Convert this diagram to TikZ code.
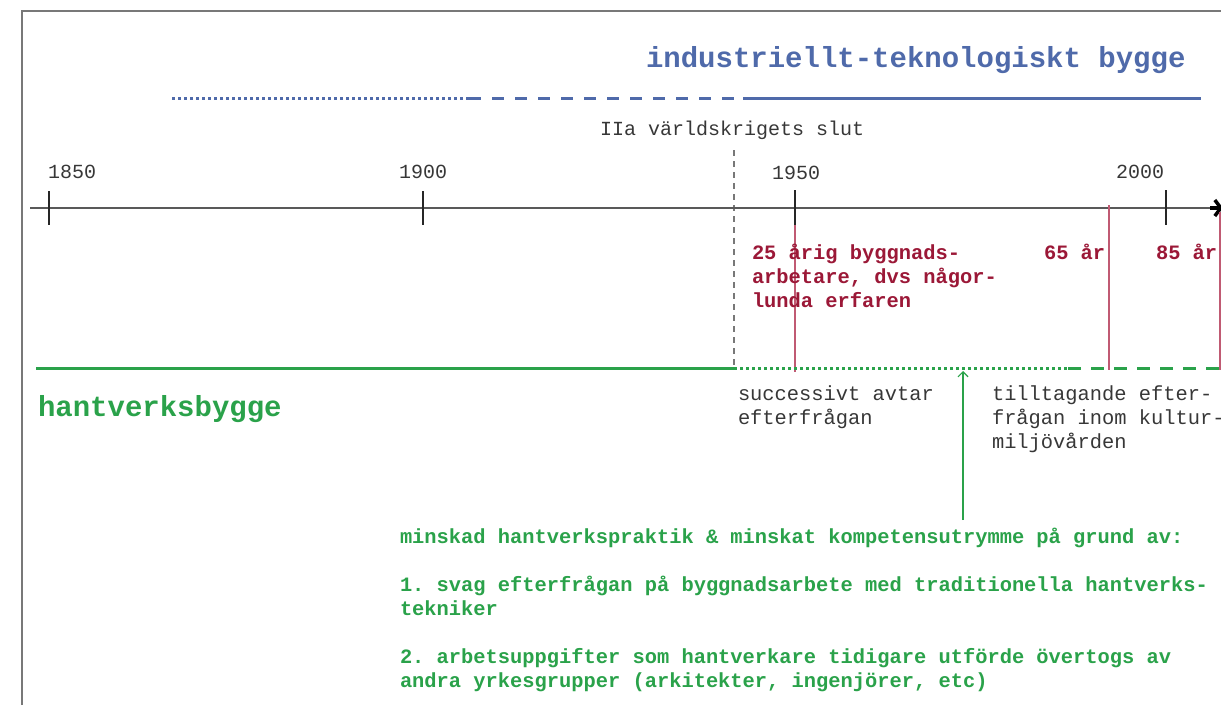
\documentclass[tikz,border=0pt]{standalone}
\usepackage{fontspec}
\newfontfamily\mono{Liberation Mono}
\usetikzlibrary{arrows.meta}
\definecolor{tblue}{RGB}{79,106,170}
\definecolor{tgreen}{RGB}{42,162,74}
\definecolor{tred}{RGB}{155,24,55}
\definecolor{tredline}{RGB}{192,90,115}
\definecolor{tgray}{RGB}{55,55,55}
\definecolor{tframe}{RGB}{120,120,120}
\tikzset{
  lbl/.style={anchor=base west, inner sep=0pt, outer sep=0pt},
  yearlbl/.style={lbl, text=tgray, font=\mono\frenchspacing\fontsize{20}{24}\selectfont},
  redlbl/.style={lbl, text=tred, font=\mono\frenchspacing\bfseries\fontsize{20.4}{24}\selectfont},
  graylbl/.style={lbl, text=tgray, font=\mono\frenchspacing\fontsize{20.4}{24}\selectfont},
  greenlbl/.style={lbl, text=tgreen, font=\mono\frenchspacing\bfseries\fontsize{20.4}{24}\selectfont},
  biglbl/.style={lbl, font=\mono\frenchspacing\bfseries\fontsize{29}{34}\selectfont},
  tick/.style={draw=black!85, line width=1.1pt},
  redv/.style={draw=tredline, line width=1.1pt},
}
\begin{document}
\begin{tikzpicture}[x=1pt,y=-1pt]
\useasboundingbox (0,0) rectangle (1221,705);
% frame
\draw[tframe, line width=1.3pt] (22,705) -- (22,11) -- (1221,11);

% title and blue lines
\node[biglbl, text=tblue] (title) at (646,67) {industriellt-teknologiskt bygge};
\coordinate (b0) at (172,98);
\coordinate (b1) at (469,98);
\coordinate (b2) at (743,98);
\coordinate (b3) at (1201,98);
\draw[tblue, line width=3pt, dash pattern=on 3pt off 3pt] (b0) -- (b1);
\draw[tblue, line width=3pt, dash pattern=on 12pt off 11pt] (b1) -- (b2);
\draw[tblue, line width=3pt] (b2) -- (b3);

% WWII label and dashed vertical
\node[graylbl, font=\mono\fontsize{20}{24}\selectfont] (ww) at (600,135) {IIa världskrigets slut};
\coordinate (wtop) at (734,150);
\coordinate (wbot) at (734,368);
\draw[tframe, line width=1.1pt, dash pattern=on 6pt off 5pt] (wtop) -- (wbot);

% axis
\coordinate (ax0) at (30,208);
\coordinate (ax1) at (1223,208);
\draw[black!65, line width=1.2pt] (ax0) -- (1214,208);
\draw[black, line width=3.5pt, -{Straight Barb[length=6pt,width=16pt,line width=3.5pt]}] (1210,208) -- (ax1);

% ticks
\draw[tick] (49,191) -- (49,225);
\draw[tick] (423,191) -- (423,225);
\draw[tick] (1166,190) -- (1166,225);
\node[yearlbl] (y1850) at (48,178) {1850};
\node[yearlbl] (y1900) at (399,178) {1900};
\node[yearlbl] (y1950) at (772,179) {1950};
\node[yearlbl] (y2000) at (1116,178) {2000};

% red verticals
\draw[redv] (795,208) -- (795,372);
\draw[tick] (795,190) -- (795,225);
\draw[redv] (1109,205) -- (1109,370);
\draw[redv] (1220,212) -- (1220,370);

% red labels
\node[redlbl] (age25) at (752,259) {\begin{tabular}[t]{@{}l@{}}25 årig byggnads-\\arbetare, dvs någor-\\lunda erfaren\end{tabular}};
\node[redlbl] (age65) at (1044,259) {65 år};
\node[redlbl] (age85) at (1156,259) {85 år};

% green lines
\coordinate (g0) at (36,368);
\coordinate (g1) at (734,368);
\coordinate (g2) at (1068,368);
\coordinate (g3) at (1221,368);
\draw[tgreen, line width=3pt] (g0) -- (g1);
\draw[tgreen, line width=3pt, dash pattern=on 3pt off 3pt] (g1) -- (g2);
\draw[tgreen, line width=3pt, dash pattern=on 13pt off 10pt] (g2) -- (g3);

\node[biglbl, text=tgreen] (hant) at (38,416) {hantverksbygge};

% gray notes
\node[graylbl] (succ) at (738,400) {\begin{tabular}[t]{@{}l@{}}successivt avtar\\efterfrågan\end{tabular}};
\node[graylbl] (tillt) at (992,400) {\begin{tabular}[t]{@{}l@{}}tilltagande efter-\\frågan inom kultur-\\miljövården\end{tabular}};

% bottom green text and arrow
\node[greenlbl] (reasons) at (400,543) {\begin{tabular}[t]{@{}l@{}}minskad hantverkspraktik \& minskat kompetensutrymme på grund av:\\ \\1. svag efterfrågan på byggnadsarbete med traditionella hantverks-\\tekniker\\ \\2. arbetsuppgifter som hantverkare tidigare utförde övertogs av\\andra yrkesgrupper (arkitekter, ingenjörer, etc)\end{tabular}};
\coordinate (arrtop) at (963,371);
\coordinate (arrbot) at (963,520);
\draw[tgreen, line width=1.2pt, -{Straight Barb[length=5pt,width=10pt,line width=1.2pt]}] (arrbot) -- (arrtop);
\end{tikzpicture}
\end{document}
